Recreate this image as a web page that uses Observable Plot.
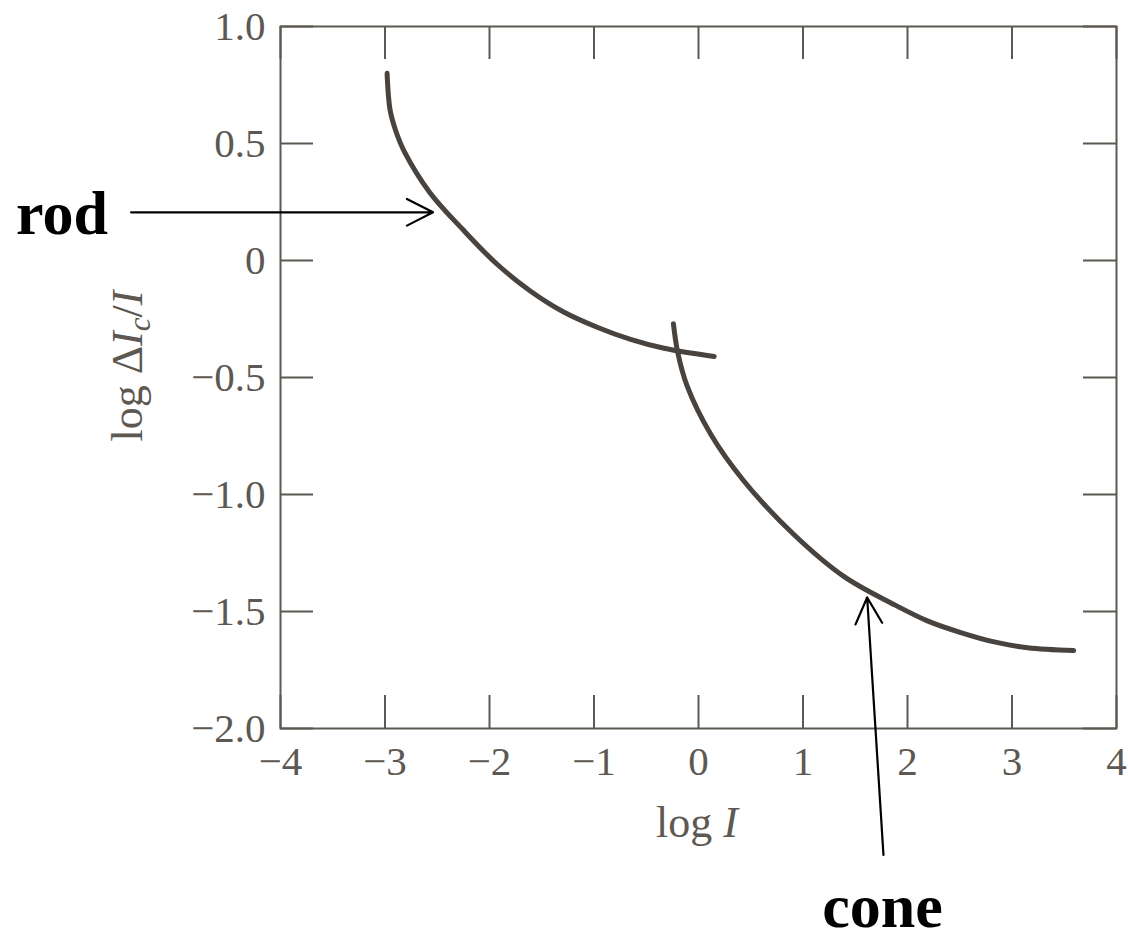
<!DOCTYPE html>
<html>
<head>
<meta charset="utf-8">
<script src="https://cdn.jsdelivr.net/npm/d3@7"></script>
<script src="https://cdn.jsdelivr.net/npm/@observablehq/plot@0.6"></script>
<style>
  html, body { margin: 0; padding: 0; background: #fff; }
  #chart svg { display: block; }
</style>
</head>
<body>
<div id="chart"></div>
<script>
// Increment threshold (log ΔIc/I) versus background intensity (log I)
const rodLogI  = [-2.98, -2.95, -2.89, -2.82, -2.57, -2.25, -1.93, -1.61, -1.29, -0.97, -0.65, -0.33, 0.15];
const rodLogDI = [ 0.80,  0.64,  0.545, 0.47,  0.29,  0.13, -0.015, -0.13, -0.22, -0.285, -0.337, -0.375, -0.41];

const coneLogI  = [-0.24, -0.20, -0.11, 0.12, 0.43, 0.91, 1.39, 1.87, 2.19, 2.51, 2.83, 3.15, 3.59];
const coneLogDI = [-0.27, -0.39, -0.535, -0.745, -0.94, -1.17, -1.35, -1.47, -1.54, -1.59, -1.63, -1.655, -1.667];

const xTicks = [-4, -3, -2, -1, 0, 1, 2, 3, 4];
const xTickLabels = ["\u22124", "\u22123", "\u22122", "\u22121", "0", "1", "2", "3", "4"];
const yTicks = [-2.0, -1.5, -1.0, -0.5, 0, 0.5, 1.0];
const yTickLabels = ["\u22122.0", "\u22121.5", "\u22121.0", "\u22120.5", "0", "0.5", "1.0"];

// Callout labels and their arrows (tail → head, in data units)
const calloutText  = ["rod", "cone"];
const calloutTextX = [-6.53, 1.76];
const calloutTextY = [0.115, -2.85];
const arrowX1 = [-5.43, 1.77];
const arrowY1 = [0.206, -2.54];
const arrowX2 = [-2.54, 1.614];
const arrowY2 = [0.206, -1.44];

const rod = rodLogI.map((x, i) => ({x, y: rodLogDI[i]}));
const cone = coneLogI.map((x, i) => ({x, y: coneLogDI[i]}));
const callouts = calloutText.map((t, i) => ({t, x: calloutTextX[i], y: calloutTextY[i]}));
const arrows = arrowX1.map((x1, i) => ({x1, y1: arrowY1[i], x2: arrowX2[i], y2: arrowY2[i]}));

const W = 1128, H = 933;
const mL = 280, mR = 12, mT = 26, mB = 205;
const plotW = W - mL - mR, plotH = H - mT - mB;
const tickLen = 33;
const axisColor = "#5d5852";
const curveColor = "#48433e";
const serif = "'Liberation Serif', 'DejaVu Serif', serif";

const calloutStyle = {x: "x", y: "y", text: "t", lineAnchor: "bottom",
  fontSize: 62, fontWeight: "bold", fill: "#000", fontFamily: serif};

const chart = Plot.plot({
  width: W,
  height: H,
  marginLeft: mL,
  marginRight: mR,
  marginTop: mT,
  marginBottom: mB,
  style: {fontFamily: serif, fontSize: "41px", color: axisColor, background: "#fff"},
  x: {domain: [-4, 4], label: null},
  y: {domain: [-2, 1], label: null},
  marks: [
    Plot.frame({stroke: axisColor, strokeWidth: 2}),
    // inward ticks on all four sides
    Plot.ruleX(xTicks, {x: d => d, stroke: axisColor, strokeWidth: 2, insetTop: plotH - tickLen}),
    Plot.ruleX(xTicks, {x: d => d, stroke: axisColor, strokeWidth: 2, insetBottom: plotH - tickLen}),
    Plot.ruleY(yTicks, {y: d => d, stroke: axisColor, strokeWidth: 2, insetRight: plotW - tickLen}),
    Plot.ruleY(yTicks, {y: d => d, stroke: axisColor, strokeWidth: 2, insetLeft: plotW - tickLen}),
    Plot.axisX({ticks: xTicks, tickSize: 0, tickPadding: 17, fontSize: 41,
      tickFormat: d => xTickLabels[xTicks.indexOf(d)], label: null}),
    Plot.axisY({ticks: yTicks, tickSize: 0, tickPadding: 15, fontSize: 41,
      tickFormat: d => yTickLabels[yTicks.indexOf(d)], label: null}),
    Plot.line(rod, {x: "x", y: "y", stroke: curveColor, strokeWidth: 5, curve: "catmull-rom", strokeLinecap: "round"}),
    Plot.line(cone, {x: "x", y: "y", stroke: curveColor, strokeWidth: 5, curve: "catmull-rom", strokeLinecap: "round"}),
    Plot.arrow(arrows, {x1: "x1", y1: "y1", x2: "x2", y2: "y2", stroke: "#000", strokeWidth: 2.2,
      headLength: 20, headAngle: 54}),
    Plot.text(callouts.slice(0, 1), {...calloutStyle, textAnchor: "start"}),
    Plot.text(callouts.slice(1), {...calloutStyle, textAnchor: "middle"})
  ]
});

document.getElementById("chart").append(chart);
const svg = d3.select(chart);

// Axis titles with italic symbols and subscript
const xTitle = svg.append("text")
  .attr("x", 697).attr("y", 837)
  .attr("text-anchor", "middle")
  .attr("fill", axisColor)
  .style("font-family", serif).style("font-size", "44px");
xTitle.append("tspan").text("log ");
xTitle.append("tspan").attr("font-style", "italic").text("I");

const yTitle = svg.append("text")
  .attr("transform", "translate(142,366) rotate(-90)")
  .attr("text-anchor", "middle")
  .attr("fill", axisColor)
  .style("font-family", serif).style("font-size", "44px");
yTitle.append("tspan").text("log \u0394");
yTitle.append("tspan").attr("font-style", "italic").text("I");
yTitle.append("tspan").attr("font-style", "italic").attr("font-size", "31px").attr("dy", "8").text("c");
yTitle.append("tspan").attr("dy", "-8").text("/");
yTitle.append("tspan").attr("font-style", "italic").text("I");
</script>
</body>
</html>
